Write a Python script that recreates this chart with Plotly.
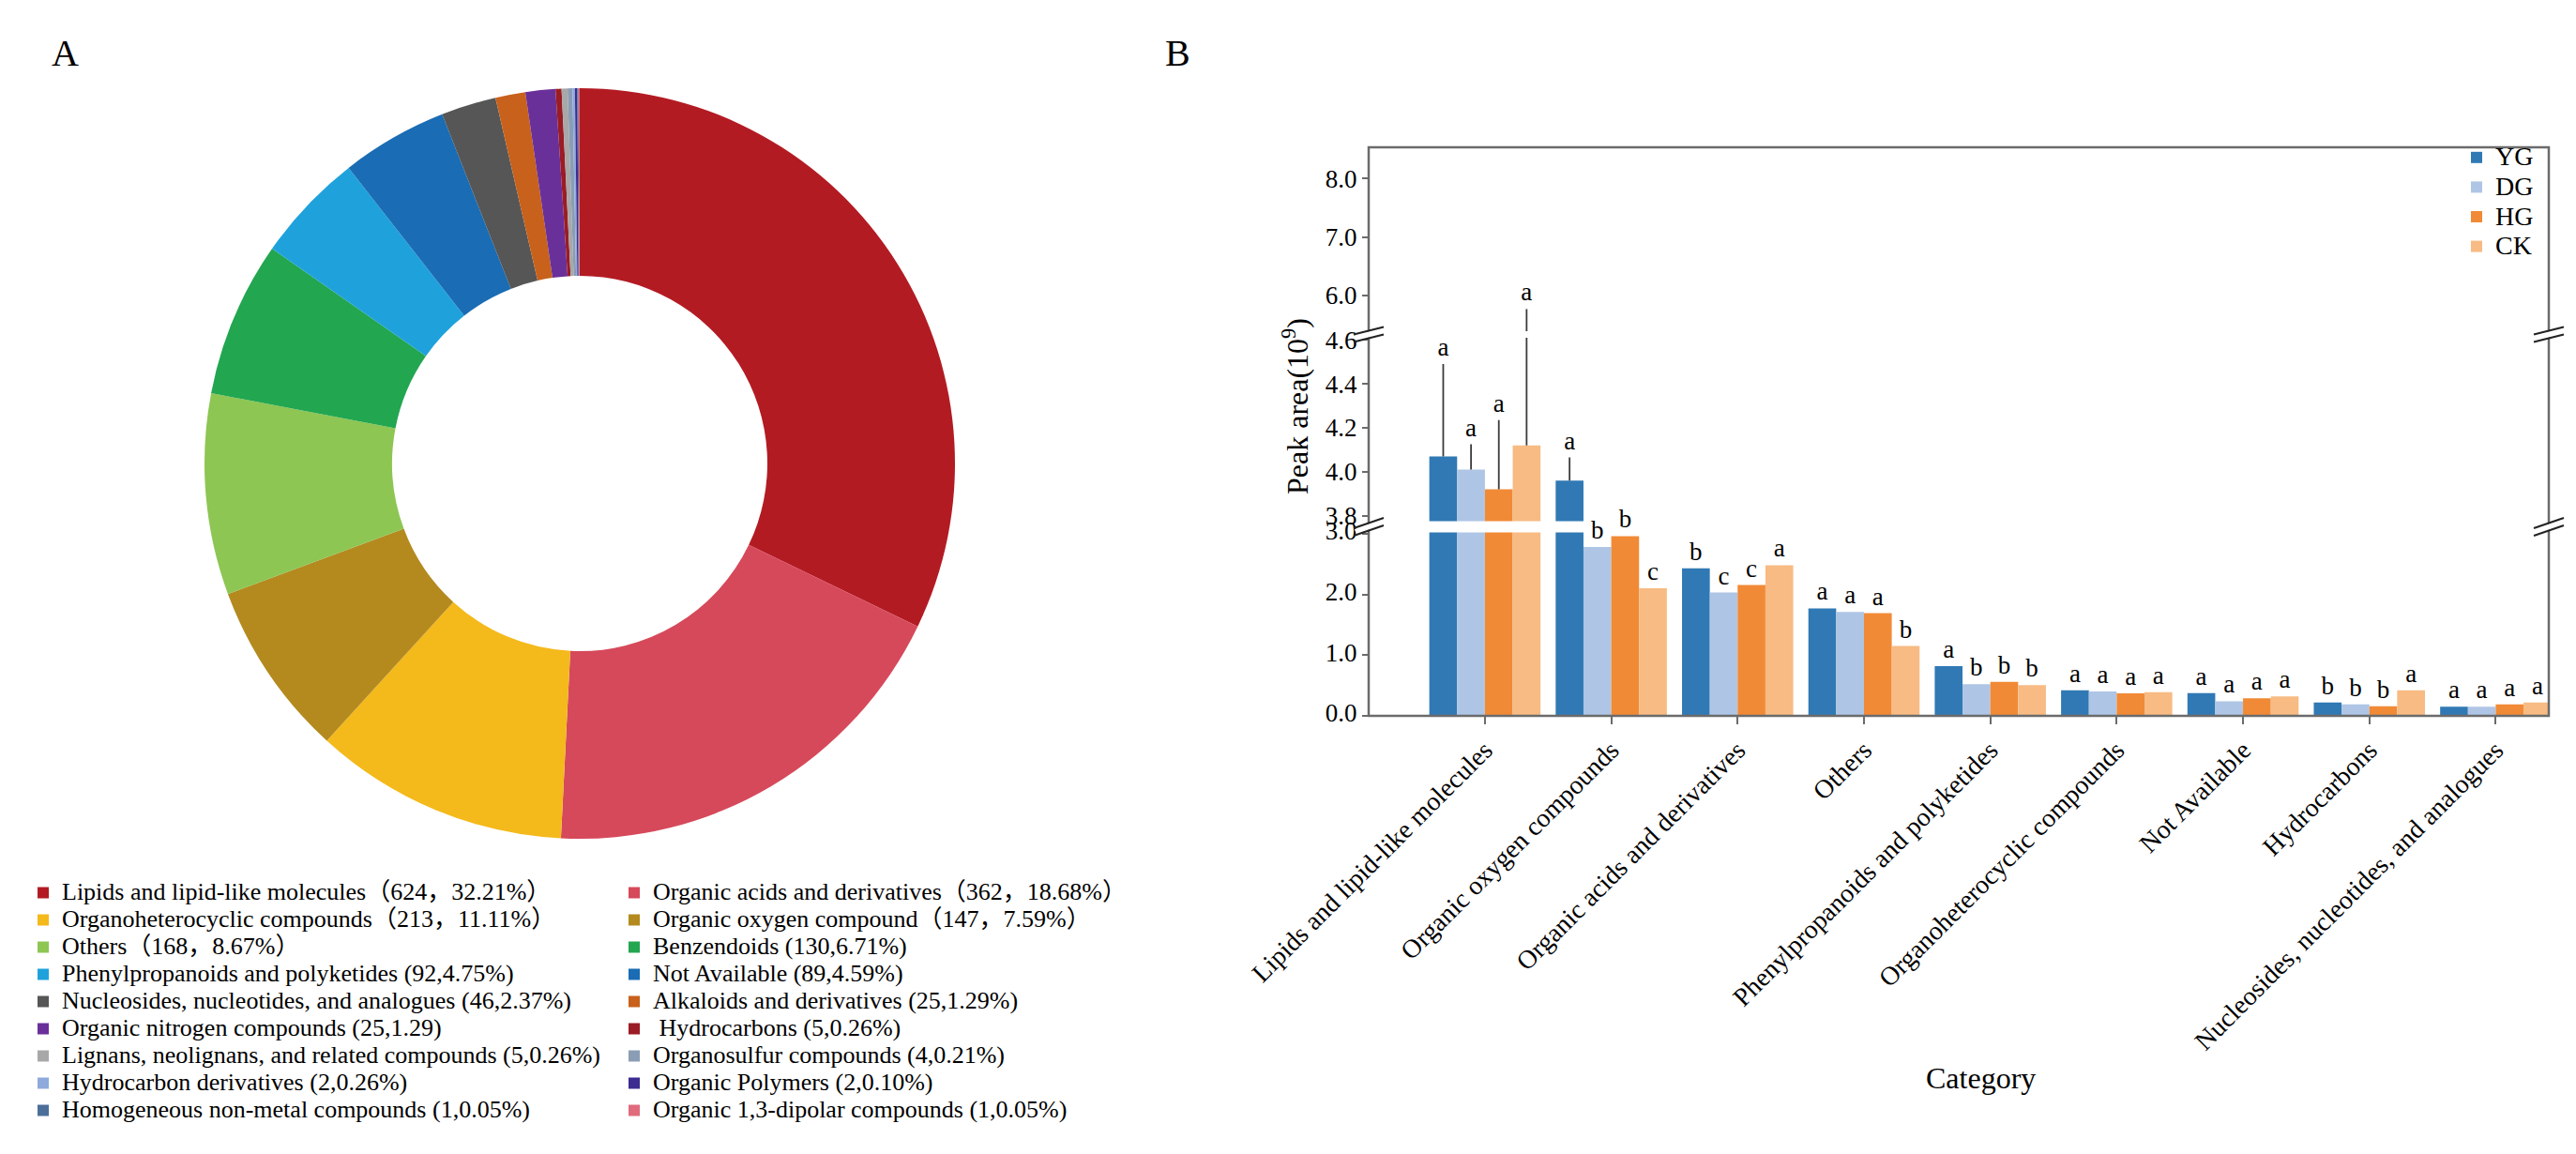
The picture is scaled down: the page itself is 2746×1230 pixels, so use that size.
import plotly.graph_objects as go

# ---------------- Panel A data ----------------
pie_names = [
    "Lipids and lipid-like molecules（624，32.21%）",
    "Organic acids and derivatives（362，18.68%）",
    "Organoheterocyclic compounds（213，11.11%）",
    "Organic oxygen compound（147，7.59%）",
    "Others（168，8.67%）",
    "Benzendoids (130,6.71%)",
    "Phenylpropanoids and polyketides (92,4.75%)",
    "Not Available (89,4.59%)",
    "Nucleosides, nucleotides, and analogues (46,2.37%)",
    "Alkaloids and derivatives (25,1.29%)",
    "Organic nitrogen compounds (25,1.29)",
    " Hydrocarbons (5,0.26%)",
    "Lignans, neolignans, and related compounds (5,0.26%)",
    "Organosulfur compounds (4,0.21%)",
    "Hydrocarbon derivatives (2,0.26%)",
    "Organic Polymers (2,0.10%)",
    "Homogeneous non-metal compounds (1,0.05%)",
    "Organic 1,3-dipolar compounds (1,0.05%)",
]
pie_counts = [624, 362, 213, 147, 168, 130, 92, 89, 46, 25, 25, 5, 5, 4, 2, 2, 1, 1]
pie_colors = [
    "#b31b23", "#d6495a", "#f4b91b", "#b48a1f", "#8dc653", "#22a650",
    "#1fa2dc", "#1a6cb4", "#565656", "#c8611b", "#6a309a", "#9b1c24",
    "#a8a8a8", "#8a9db5", "#8eaadc", "#3c2b90", "#4b6f99", "#e06b7c",
]

# ---------------- Panel B data ----------------
categories = [
    "Lipids and lipid-like molecules",
    "Organic oxygen compounds",
    "Organic acids and derivatives",
    "Others",
    "Phenylpropanoids and polyketides",
    "Organoheterocyclic compounds",
    "Not Available",
    "Hydrocarbons",
    "Nucleosides, nucleotides, and analogues",
]
groups = ["YG", "DG", "HG", "CK"]
group_colors = ["#3079b4", "#aec5e5", "#f18a36", "#f7bb83"]

YG = [4.07, 3.96, 2.43, 1.77, 0.82, 0.42, 0.375, 0.22, 0.15]
DG = [4.01, 2.78, 2.03, 1.71, 0.52, 0.40, 0.24, 0.19, 0.15]
HG = [3.92, 2.96, 2.155, 1.69, 0.56, 0.37, 0.29, 0.16, 0.19]
CK = [4.12, 2.10, 2.48, 1.15, 0.505, 0.39, 0.32, 0.42, 0.22]

YG_err = [0.42, 0.105, 0, 0, 0, 0, 0, 0, 0]
DG_err = [0.115, 0, 0, 0, 0, 0, 0, 0, 0]
HG_err = [0.315, 0, 0, 0, 0, 0, 0, 0, 0]
CK_err = [1.64, 0, 0, 0, 0, 0, 0, 0, 0]

YG_sig = ["a", "a", "b", "a", "a", "a", "a", "b", "a"]
DG_sig = ["a", "b", "c", "a", "b", "a", "a", "b", "a"]
HG_sig = ["a", "b", "c", "a", "b", "a", "a", "b", "a"]
CK_sig = ["a", "c", "a", "b", "b", "a", "a", "a", "a"]

values = [YG, DG, HG, CK]
errors = [YG_err, DG_err, HG_err, CK_err]
letters = [YG_sig, DG_sig, HG_sig, CK_sig]

# broken y axis segments: (axis name, range, tick step)
segments = [
    ("y", [0, 3.02], 1.0),
    ("y2", [3.775, 4.61], 0.2),
    ("y3", [5.38, 8.54], 1.0),
]

# ---------------- layout helpers ----------------
FIG_W, FIG_H = 2746, 1230
ML = 20
PW = FIG_W - ML


def px_x(p):
    return (p - ML) / PW


def px_y(p):
    return 1 - p / FIG_H


SERIF = "Liberation Serif, Times New Roman, Noto Sans CJK SC, serif"
GREY = "#6b6b6b"

seg_domains = {
    "y": [px_y(755), px_y(559.5)],
    "y2": [px_y(547.5), px_y(352)],
    "y3": [px_y(345), px_y(149)],
}

fig = go.Figure()

# ---------------- Panel A: donut ----------------
fig.add_trace(go.Pie(
    labels=['<span style="font-size:26px">' + n + "</span>" for n in pie_names],
    values=pie_counts,
    sort=False,
    direction="clockwise",
    rotation=0,
    hole=0.5,
    marker=dict(colors=pie_colors, line=dict(width=0)),
    textinfo="none",
    domain=dict(x=[px_x(210), px_x(1010)], y=[px_y(886), px_y(86)]),
    legend="legend",
))

# ---------------- Panel B: bars ----------------
for axname, rng, _ in segments:
    lo, hi = rng
    for gi, g in enumerate(groups):
        fig.add_trace(go.Bar(
            x=categories,
            y=values[gi],
            name='<span style="font-size:28px">' + g + "</span>",
            marker=dict(color=group_colors[gi], line=dict(width=0)),
            error_y=dict(type="data", array=errors[gi], arrayminus=[0] * len(categories),
                         symmetric=False, color="#3c3c3c", thickness=1.8, width=0),
            offsetgroup=g,
            xaxis="x",
            yaxis=axname,
            legend="legend2",
            showlegend=(axname == "y"),
            hoverinfo="x+y",
        ))
    # significance letters sitting on top of bar + error
    for gi, g in enumerate(groups):
        xs, ys, txt = [], [], []
        for c, v, e, l in zip(categories, values[gi], errors[gi], letters[gi]):
            t = v + e
            if lo <= t <= hi + 0.001:
                xs.append(c)
                ys.append(t)
                txt.append(l)
        if not xs:
            continue
        fig.add_trace(go.Bar(
            x=xs,
            y=ys,
            text=txt,
            textposition="outside",
            constraintext="none",
            cliponaxis=False,
            textfont=dict(family=SERIF, size=27, color="black"),
            marker=dict(color="rgba(0,0,0,0)", line=dict(width=0)),
            offsetgroup=g,
            xaxis="x",
            yaxis=axname,
            showlegend=False,
            hoverinfo="skip",
        ))

yax_common = dict(
    showgrid=False, zeroline=False, showline=False,
    ticks="outside", ticklen=6, tickwidth=2, tickcolor=GREY,
    tickfont=dict(family=SERIF, size=27, color="black"),
    tickformat=".1f", anchor="x", tick0=0,
)

layout_axes = {}
for axname, rng, step in segments:
    key = "yaxis" if axname == "y" else "yaxis" + axname[1:]
    layout_axes[key] = dict(yax_common, range=rng, dtick=step, domain=seg_domains[axname])
layout_axes["yaxis"]["ticklabelshift"] = -3

x_lo, x_hi = px_x(1451), px_x(2709)

# frame and axis-break marks
shapes = [dict(type="rect", xref="paper", yref="paper",
               x0=x_lo, x1=x_hi, y0=px_y(755), y1=px_y(149),
               line=dict(color=GREY, width=2.5), fillcolor="rgba(0,0,0,0)", layer="above")]
for xc in (1451, 2709):
    for yc, slope in ((553.5, 11), (348.5, 8)):
        shapes.append(dict(type="line", xref="paper", yref="paper",
                           x0=px_x(xc - 14), x1=px_x(xc + 14),
                           y0=px_y(yc + slope / 2), y1=px_y(yc - slope / 2),
                           line=dict(color="white", width=6)))
        for off in (-4, 4):
            shapes.append(dict(type="line", xref="paper", yref="paper",
                               x0=px_x(xc - 16), x1=px_x(xc + 16),
                               y0=px_y(yc + off + slope / 2), y1=px_y(yc + off - slope / 2),
                               line=dict(color="#222222", width=2)))

annotations = [
    dict(text="A", x=px_x(61), y=px_y(49), xref="paper", yref="paper", showarrow=False,
         xanchor="center", yanchor="middle", font=dict(family=SERIF, size=40, color="black")),
    dict(text="B", x=px_x(1247), y=px_y(49), xref="paper", yref="paper", showarrow=False,
         xanchor="center", yanchor="middle", font=dict(family=SERIF, size=40, color="black")),
    dict(text="Peak area(10<sup>9</sup>)", x=px_x(1373), y=px_y(425), xref="paper", yref="paper",
         showarrow=False, textangle=-90, xanchor="center", yanchor="middle",
         font=dict(family=SERIF, size=32, color="black")),
    dict(text="Category", x=px_x(2103), y=px_y(1141), xref="paper", yref="paper",
         showarrow=False, xanchor="center", yanchor="middle",
         font=dict(family=SERIF, size=32, color="black")),
]

fig.update_layout(
    width=FIG_W, height=FIG_H,
    margin=dict(l=ML, r=0, t=0, b=0, autoexpand=False),
    paper_bgcolor="white", plot_bgcolor="rgba(0,0,0,0)",
    font=dict(family=SERIF, color="black"),
    barmode="group", bargap=0.12, bargroupgap=0,
    xaxis=dict(type="category", domain=[x_lo, x_hi], range=[-0.92, 8.42], anchor="y",
               showgrid=False, zeroline=False, showline=False,
               ticks="outside", ticklen=8, tickwidth=2, tickcolor=GREY,
               tickangle=-45, tickfont=dict(family=SERIF, size=28, color="black")),
    legend=dict(orientation="h", x=px_x(18), xanchor="left", y=px_y(924), yanchor="top",
                entrywidth=585, entrywidthmode="pixels", traceorder="normal",
                font=dict(family=SERIF, size=20, color="black"), bgcolor="rgba(0,0,0,0)"),
    legend2=dict(orientation="v", x=px_x(2612), xanchor="left", y=px_y(139), yanchor="top",
                 font=dict(family=SERIF, size=22, color="black"), bgcolor="rgba(0,0,0,0)"),
    shapes=shapes,
    annotations=annotations,
    **layout_axes,
)

fig.write_html("out.html")
